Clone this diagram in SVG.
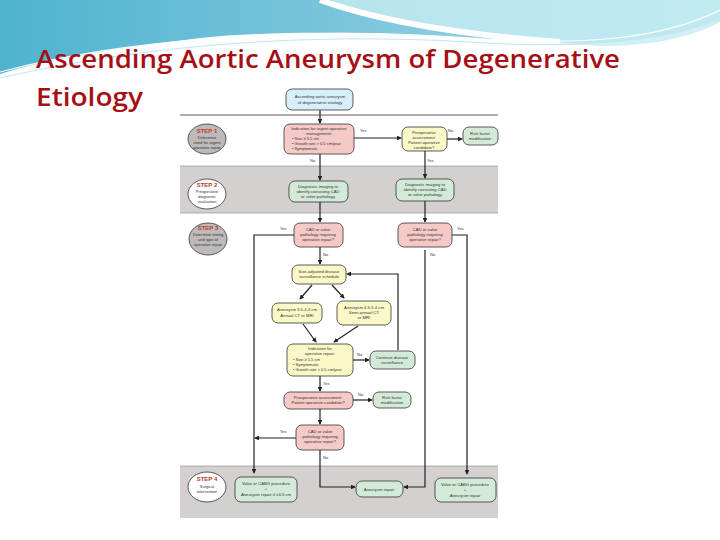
<svg xmlns="http://www.w3.org/2000/svg" width="720" height="540" viewBox="0 0 720 540">
<defs>
<linearGradient id="sky" x1="0" y1="0" x2="1" y2="0"><stop offset="0" stop-color="#4fb3cf"/><stop offset="0.5" stop-color="#7cc6dc"/><stop offset="1" stop-color="#aee0ee"/></linearGradient>
<marker id="ah" viewBox="0 0 6 6" refX="5" refY="3" markerWidth="4" markerHeight="4" orient="auto"><path d="M0,0 L6,3 L0,6 Z" fill="#222"/></marker>
</defs>
<style>
.t{font-family:"Liberation Sans",Arial,sans-serif;font-size:4.2px;fill:#333;text-anchor:middle}
.s{font-family:"Liberation Sans",Arial,sans-serif;font-size:4px;fill:#333;text-anchor:middle}
.l{font-family:"Liberation Sans",Arial,sans-serif;font-size:4px;fill:#333;text-anchor:start}
.st{font-family:"Liberation Sans",Arial,sans-serif;font-size:6px;font-weight:bold;fill:#c0392b;text-anchor:middle}
.n{stroke:#333;stroke-width:0.8}
.pink{fill:#f5c9c6}.yel{fill:#fbf8c8}.grn{fill:#d4ead8}.blu{fill:#d8eef8}
.c{fill:none;stroke:#222;stroke-width:1.2;marker-end:url(#ah)}
.y{font-family:"Liberation Sans",Arial,sans-serif;font-size:4px;fill:#333}
</style>
<rect width="720" height="540" fill="#fff"/>
<g id="bg">
<path d="M0,0 H720 V20 C640,50 560,44 470,38 C380,32 280,30 200,38 C120,48 50,58 0,74 Z" fill="url(#sky)"/>
<path d="M330,0 C380,20 470,40 600,46 C650,46 690,38 720,22 V0 Z" fill="#c5ecf3" opacity="0.8"/>
<path d="M320,0 C370,18 450,34 560,42" fill="none" stroke="#fff" stroke-width="6"/>
<path d="M0,72 C120,40 300,25 470,38 C580,46 660,40 720,10" fill="none" stroke="#fff" stroke-width="1.2"/>
<path d="M0,78 C140,46 300,32 470,42 C580,50 670,40 720,16" fill="none" stroke="#bfe6f0" stroke-width="1"/>
</g>
<g id="title" font-family="'Open Sans',Lato,sans-serif" font-weight="600" font-size="26" fill="#a50f15" style="font-variant-ligatures:none">
<text x="36" y="68" textLength="584" lengthAdjust="spacingAndGlyphs">Ascending Aortic Aneurysm of Degenerative</text>
<text x="36" y="106" textLength="107" lengthAdjust="spacingAndGlyphs">Etiology</text>
</g>
<g id="panel">
<rect x="180" y="80" width="318" height="440" fill="#fff"/>
<rect x="180" y="166" width="318" height="47" fill="#d3d0cf"/>
<rect x="180" y="466" width="318" height="52" fill="#d3d0cf"/>
<line x1="180" y1="115" x2="498" y2="115" stroke="#333" stroke-width="0.8"/>
<line x1="180" y1="166" x2="498" y2="166" stroke="#888" stroke-width="0.6"/>
<line x1="180" y1="213" x2="498" y2="213" stroke="#888" stroke-width="0.6"/>
<line x1="180" y1="466" x2="498" y2="466" stroke="#888" stroke-width="0.6"/>
</g>
<g id="steps">
<g id="step1"><ellipse cx="207" cy="139" rx="19" ry="15" fill="#bdbab9" class="n"/><text class="st" x="207" y="133">STEP 1</text><text class="s" x="207" y="139">Determine</text><text class="s" x="207" y="144">need for urgent</text><text class="s" x="207" y="149">operative repair</text></g>
<g id="step2"><ellipse cx="207" cy="194" rx="19" ry="15" fill="#fff" class="n"/><text class="st" x="207" y="187">STEP 2</text><text class="s" x="207" y="193">Preoperative</text><text class="s" x="207" y="198">diagnostic</text><text class="s" x="207" y="203">evaluation</text></g>
<g id="step3"><ellipse cx="208" cy="239" rx="19" ry="16" fill="#bdbab9" class="n"/><text class="st" x="208" y="230">STEP 3</text><text class="s" x="208" y="236">Determine timing</text><text class="s" x="208" y="241">and type of</text><text class="s" x="208" y="246">operative repair</text></g>
<g id="step4"><ellipse cx="207" cy="487" rx="19" ry="15" fill="#fff" class="n"/><text class="st" x="207" y="481">STEP 4</text><text class="s" x="207" y="488">Surgical</text><text class="s" x="207" y="493">intervention</text></g>
</g>
<g id="connectors">
<path class="c" d="M320,110 V123"/>
<path class="c" d="M354,138 H401"/>
<path class="c" d="M447,139 H462"/>
<path class="c" d="M320,154 V180"/>
<path class="c" d="M425,151 V178"/>
<path class="c" d="M320,202 V222"/>
<path class="c" d="M425,201 V222"/>
<path class="c" d="M294,235 H254 V473"/>
<path class="c" d="M452,235 H467 V474"/>
<path class="c" d="M320,247 V264"/>
<path class="c" d="M312,285 L300,299"/>
<path class="c" d="M332,285 L344,298"/>
<path class="c" d="M303,324 L316,342"/>
<path class="c" d="M358,326 L334,342"/>
<path class="c" d="M353,360 H369"/>
<path class="c" d="M398,350 V274 H347"/>
<path class="c" d="M320,376 V391"/>
<path class="c" d="M353,400 H372"/>
<path class="c" d="M320,409 V424"/>
<path class="c" d="M296,438 H255"/>
<path class="c" d="M320,450 V487 H355"/>
<path class="c" d="M425,250 V487 H404"/>
<text class="y" x="360" y="132">Yes</text><text class="y" x="448" y="132">No</text>
<text class="y" x="310" y="162">No</text><text class="y" x="427" y="162">Yes</text>
<text class="y" x="280" y="230">Yes</text><text class="y" x="457" y="230">Yes</text>
<text class="y" x="323" y="256">No</text><text class="y" x="430" y="256">No</text>
<text class="y" x="357" y="356">No</text><text class="y" x="323" y="385">Yes</text>
<text class="y" x="358" y="396">No</text><text class="y" x="280" y="433">Yes</text>
<text class="y" x="323" y="459">No</text>
</g>
<g id="n-start"><rect x="286" y="89" width="67" height="21" rx="6" class="n blu"/><text class="t" x="320" y="98">Ascending aortic aneurysm</text><text class="t" x="320" y="104">of degenerative etiology</text></g>
<g id="n-urgent"><rect x="284" y="124" width="70" height="30" rx="6" class="n pink"/><text class="t" x="319" y="130">Indication for urgent operative</text><text class="t" x="319" y="135">management:</text><text class="l" x="292" y="140">• Size ≥ 5.5 cm</text><text class="l" x="292" y="145">• Growth rate &gt; 0.5 cm/year</text><text class="l" x="292" y="150">• Symptomatic</text></g>
<g id="n-preop1"><rect x="402" y="127" width="45" height="24" rx="6" class="n yel"/><text class="t" x="424" y="134">Preoperative</text><text class="t" x="424" y="139">assessment:</text><text class="t" x="424" y="144">Patient operative</text><text class="t" x="424" y="149">candidate?</text></g>
<g id="n-risk1"><rect x="463" y="127" width="35" height="18" rx="6" class="n grn"/><text class="t" x="480" y="135">Risk factor</text><text class="t" x="480" y="140">modification</text></g>
<g id="n-diag1"><rect x="289" y="181" width="59" height="21" rx="6" class="n grn"/><text class="t" x="318" y="188">Diagnostic imaging to</text><text class="t" x="318" y="193">identify coexisting CAD</text><text class="t" x="318" y="198">or valve pathology</text></g>
<g id="n-diag2"><rect x="396" y="179" width="58" height="22" rx="6" class="n grn"/><text class="t" x="425" y="186">Diagnostic imaging to</text><text class="t" x="425" y="191">identify coexisting CAD</text><text class="t" x="425" y="196">or valve pathology</text></g>
<g id="n-cad1"><rect x="294" y="223" width="49" height="24" rx="6" class="n pink"/><text class="t" x="318" y="231">CAD or valve</text><text class="t" x="318" y="236">pathology requiring</text><text class="t" x="318" y="241">operative repair?</text></g>
<g id="n-cad2"><rect x="398" y="223" width="54" height="24" rx="6" class="n pink"/><text class="t" x="425" y="231">CAD or valve</text><text class="t" x="425" y="236">pathology requiring</text><text class="t" x="425" y="241">operative repair?</text></g>
<g id="n-surv"><rect x="292" y="265" width="54" height="19" rx="6" class="n yel"/><text class="t" x="319" y="273">Size-adjusted disease</text><text class="t" x="319" y="278">surveillance schedule</text></g>
<g id="n-an1"><rect x="272" y="303" width="50" height="20" rx="6" class="n yel"/><text class="t" x="297" y="311">Aneurysm 3.5-4.4 cm</text><text class="t" x="297" y="317">Annual CT or MRI</text></g>
<g id="n-an2"><rect x="337" y="301" width="54" height="24" rx="6" class="n yel"/><text class="t" x="364" y="309">Aneurysm 4.5-5.4 cm</text><text class="t" x="364" y="314">Semi-annual CT</text><text class="t" x="364" y="319">or MRI</text></g>
<g id="n-ind"><rect x="287" y="344" width="66" height="32" rx="6" class="n yel"/><text class="t" x="320" y="350">Indication for</text><text class="t" x="320" y="355">operative repair:</text><text class="l" x="293" y="361">• Size ≥ 5.5 cm</text><text class="l" x="293" y="366">• Symptomatic</text><text class="l" x="293" y="371">• Growth rate &gt; 0.5 cm/year</text></g>
<g id="n-cont"><rect x="370" y="351" width="45" height="18" rx="6" class="n grn"/><text class="t" x="392" y="359">Continue disease</text><text class="t" x="392" y="364">surveillance</text></g>
<g id="n-preop2"><rect x="284" y="392" width="69" height="17" rx="6" class="n pink"/><text class="t" x="318" y="399">Preoperative assessment:</text><text class="t" x="318" y="404">Patient operative candidate?</text></g>
<g id="n-risk2"><rect x="373" y="392" width="38" height="16" rx="6" class="n grn"/><text class="t" x="392" y="399">Risk factor</text><text class="t" x="392" y="404">modification</text></g>
<g id="n-cad3"><rect x="296" y="425" width="48" height="25" rx="6" class="n pink"/><text class="t" x="320" y="433">CAD or valve</text><text class="t" x="320" y="438">pathology requiring</text><text class="t" x="320" y="443">operative repair?</text></g>
<g id="n-valve1"><rect x="235" y="477" width="62" height="25" rx="6" class="n grn"/><text class="t" x="266" y="485">Valve or CABG procedure</text><text class="t" x="266" y="490">+</text><text class="t" x="266" y="496">Aneurysm repair if ≥4.5 cm</text></g>
<g id="n-repair"><rect x="356" y="481" width="47" height="16" rx="6" class="n grn"/><text class="t" x="379" y="490.5">Aneurysm repair</text></g>
<g id="n-valve2"><rect x="435" y="478" width="61" height="24" rx="6" class="n grn"/><text class="t" x="465" y="486">Valve or CABG procedure</text><text class="t" x="465" y="491">+</text><text class="t" x="465" y="497">Aneurysm repair</text></g>
</svg>
